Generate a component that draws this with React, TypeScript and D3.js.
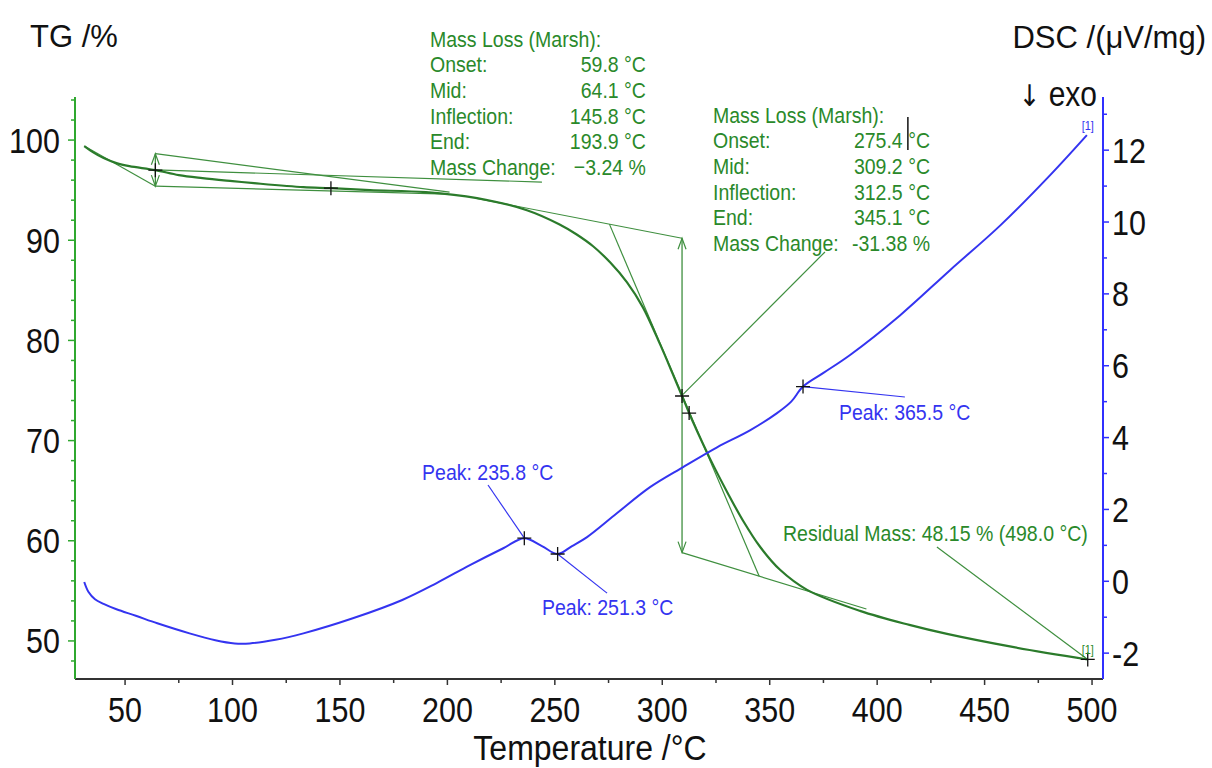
import React, { useEffect, useRef } from 'react';
import * as d3 from 'd3';

// TG curve (temperature °C, mass %)
const tgTemp = [31, 35, 40, 46, 52, 64.1, 75, 86, 100, 110, 133, 145.8, 164, 190, 213.8, 237, 252, 260, 267.8, 275.7, 283.6, 291, 299, 305, 309.2, 312.5, 314.3, 322.2, 330.6, 337.6, 345.5, 354.8, 367.4, 392, 415, 432.5, 463, 498];
const tgMass = [99.4, 98.8, 98.2, 97.7, 97.4, 97.0, 96.5, 96.2, 95.9, 95.7, 95.3, 95.2, 95.0, 94.8, 94.2, 93.0, 91.6, 90.6, 89.4, 87.8, 85.8, 83.3, 79.6, 76.6, 74.45, 72.75, 71.85, 68.2, 64.7, 62.0, 59.4, 57.1, 55.1, 53.0, 51.6, 50.7, 49.4, 48.15];

// DSC curve (temperature °C, µV/mg)
const dscTemp = [31, 33, 36, 40, 46, 55, 65, 80, 92, 101, 108, 120, 133, 156, 179, 195, 210.5, 226, 235.8, 244, 251.3, 258, 265, 279, 294.3, 309.7, 325.5, 340.8, 353.4, 360, 365.5, 375, 387.4, 410.6, 433.9, 457.2, 480.4, 497.6];
const dscValue = [-0.02, -0.3, -0.5, -0.63, -0.78, -0.96, -1.17, -1.45, -1.64, -1.73, -1.73, -1.63, -1.45, -1.03, -0.52, -0.05, 0.45, 0.92, 1.2, 0.98, 0.76, 0.98, 1.23, 1.9, 2.62, 3.18, 3.73, 4.2, 4.68, 5.0, 5.42, 5.8, 6.3, 7.4, 8.66, 9.9, 11.3, 12.42];

const tempTicks = [50, 100, 150, 200, 250, 300, 350, 400, 450, 500];
const tempMinorTicks = [75, 125, 175, 225, 275, 325, 375, 425, 475];
const tgTicks = [50, 60, 70, 80, 90, 100];
const tgMinorTicks = [48, 52, 54, 56, 58, 62, 64, 66, 68, 72, 74, 76, 78, 82, 84, 86, 88, 92, 94, 96, 98, 102, 104];
const dscTicks = [-2, 0, 2, 4, 6, 8, 10, 12];
const dscMinorTicks = [-1, 1, 3, 5, 7, 9, 11, 13];

// Mass loss evaluations
const evalLabels = ['Mass Loss (Marsh):', 'Onset:', 'Mid:', 'Inflection:', 'End:', 'Mass Change:'];
const step1Values = ['', '59.8 °C', '64.1 °C', '145.8 °C', '193.9 °C', '\u22123.24 %'];
const step2Values = ['', '275.4 °C', '309.2 °C', '312.5 °C', '345.1 °C', '-31.38 %'];
const tgMarks = [64.1, 145.8, 309.2, 312.5, 498];
const dscPeaks = [235.8, 251.3, 365.5];
const residualText = 'Residual Mass: 48.15 % (498.0 °C)';

// evaluation construction lines, in (°C, %)
const step1Tangents = [
  [[31, 99.4], [64.1, 95.4]],
  [[64.1, 98.64], [201, 94.8]],
  [[64.1, 95.4], [200, 94.6]],
];
const step1Arrow = [64.1, 98.64, 95.4];
const step2Tangents = [
  [[213, 94.2], [309.2, 90.2]],
  [[275.4, 91.61], [345.1, 56.46]],
  [[309.2, 58.82], [395, 53.19]],
];
const step2Arrow = [309.2, 90.2, 58.82];

// where the texts and leader lines sit, in data units
const layout = {
  block1: { x: 191.9, xVal: 292.4, tg: 109.34 },
  block2: { x: 323.6, xVal: 424.6, tg: 101.75 },
  leader1: [244.0, 95.81],
  leader2: [375.7, 88.83],
  residualLeader: [427.8, 59.38],
  residualText: [356.2, 59.98],
  cursor: [414.3, 102.3, 99.0],
  peakText: [[188.2, 2.82], [244.0, -0.94], [382.2, 4.49]],
  peakLeader: [[218.9, 2.68], [274.3, -0.33], [412.9, 5.13]],
};

const W = 1212;
const H = 768;
const FONT = '"Liberation Sans", Arial, sans-serif';
const GREEN_TXT = '#2a892a';
const GREEN_LINE = '#3f8f3f';
const BLUE = '#3434f0';

const interp = (xs, ys, t) => {
  const i = Math.max(1, Math.min(xs.length - 1, d3.bisectLeft(xs, t)));
  const f = (t - xs[i - 1]) / (xs[i] - xs[i - 1]);
  return ys[i - 1] + f * (ys[i] - ys[i - 1]);
};

const App = () => {
  const ref = useRef(null);

  useEffect(() => {
    const svg = d3.select(ref.current);
    svg.selectAll('*').remove();

    const x = d3.scaleLinear().domain([26.7, 505.1]).range([75, 1103]);
    const yTG = d3.scaleLinear().domain([46.2, 104.3]).range([679, 97]);
    const yDSC = d3.scaleLinear().domain([-2.72, 13.48]).range([679, 97]);

    const text = (px, py, str, size, fill, anchor = 'start', sy = 1.17) =>
      svg.append('text')
        .attr('transform', `translate(${px},${py}) scale(1,${sy})`)
        .attr('text-anchor', anchor)
        .style('font-family', FONT)
        .style('font-size', `${size}px`)
        .style('fill', fill)
        .text(str);

    const seg = (x1, y1, x2, y2, color, w = 1.2) =>
      svg.append('line')
        .attr('x1', x1).attr('y1', y1).attr('x2', x2).attr('y2', y2)
        .attr('stroke', color).attr('stroke-width', w);

    const cross = (px, py) =>
      svg.append('path')
        .attr('d', `M${px - 7},${py}H${px + 7}M${px},${py - 7}V${py + 7}`)
        .attr('stroke', '#111').attr('stroke-width', 1.3).attr('fill', 'none');

    const doubleArrow = ([t, top, bot]) => {
      const px = x(t), y1 = yTG(top), y2 = yTG(bot);
      seg(px, y1, px, y2, GREEN_LINE, 1.3);
      svg.append('path')
        .attr('d', `M${px - 4},${y1 + 11}L${px},${y1}L${px + 4},${y1 + 11}M${px - 4},${y2 - 11}L${px},${y2}L${px + 4},${y2 - 11}`)
        .attr('stroke', GREEN_LINE).attr('stroke-width', 1.2).attr('fill', 'none');
    };

    // construction lines
    [...step1Tangents, ...step2Tangents].forEach(([a, b]) =>
      seg(x(a[0]), yTG(a[1]), x(b[0]), yTG(b[1]), GREEN_LINE));
    doubleArrow(step1Arrow);
    doubleArrow(step2Arrow);

    // leader lines of the mass change labels
    const mid1 = (step1Arrow[1] + step1Arrow[2]) / 2;
    const mid2 = (step2Arrow[1] + step2Arrow[2]) / 2;
    seg(x(step1Arrow[0]), yTG(mid1), x(layout.leader1[0]), yTG(layout.leader1[1]), GREEN_LINE);
    seg(x(step2Arrow[0]), yTG(mid2), x(layout.leader2[0]), yTG(layout.leader2[1]), GREEN_LINE);
    seg(x(498), yTG(48.15), x(layout.residualLeader[0]), yTG(layout.residualLeader[1]), GREEN_LINE);

    // DSC peak leaders
    dscPeaks.forEach((t, i) => {
      const v = interp(dscTemp, dscValue, t);
      seg(x(t), yDSC(v), x(layout.peakLeader[i][0]), yDSC(layout.peakLeader[i][1]), BLUE, 1.2);
    });

    // curves
    const idxTG = d3.range(tgTemp.length);
    const idxDSC = d3.range(dscTemp.length);
    const smooth = d3.curveCatmullRom.alpha(0.5);
    svg.append('path')
      .attr('d', d3.line().x(i => x(tgTemp[i])).y(i => yTG(tgMass[i])).curve(smooth)(idxTG))
      .attr('fill', 'none').attr('stroke', '#2b7b2b').attr('stroke-width', 2.2);
    svg.append('path')
      .attr('d', d3.line().x(i => x(dscTemp[i])).y(i => yDSC(dscValue[i])).curve(smooth)(idxDSC))
      .attr('fill', 'none').attr('stroke', BLUE).attr('stroke-width', 2);

    // markers
    tgMarks.forEach(t => cross(x(t), yTG(interp(tgTemp, tgMass, t))));
    dscPeaks.forEach(t => cross(x(t), yDSC(interp(dscTemp, dscValue, t))));

    // axes
    const [x0, x1] = x.range();
    const [yb, yt] = yTG.range();
    seg(x0, yb, x1, yb, '#333', 2);
    seg(x0, yb, x0, yt, '#2fa82f', 2);
    seg(x1, yb, x1, yt, '#3030ff', 2);
    tempTicks.forEach(t => {
      seg(x(t), yb, x(t), yb + 6, '#333', 1.5);
      text(x(t), 722, String(t), 30.5, '#111', 'middle', 1.15);
    });
    tempMinorTicks.forEach(t => seg(x(t), yb, x(t), yb + 4, '#333', 1.5));
    tgTicks.forEach(v => {
      seg(x0 - 7, yTG(v), x0, yTG(v), '#2fa82f', 1.5);
      text(60, yTG(v) + 12.5, String(v), 30.5, '#111', 'end', 1.15);
    });
    tgMinorTicks.forEach(v => seg(x0 - 4, yTG(v), x0, yTG(v), '#2fa82f', 1.5));
    dscTicks.forEach(v => {
      seg(x1, yDSC(v), x1 + 6, yDSC(v), '#3030ff', 1.5);
      text(1112, yDSC(v) + 12.5, String(v), 30.5, '#111', 'start', 1.15);
    });
    dscMinorTicks.forEach(v => seg(x1, yDSC(v), x1 + 4, yDSC(v), '#3030ff', 1.5));

    // titles
    text(30, 47, 'TG /%', 31, '#111', 'start', 1);
    text(1206, 48, 'DSC /(\u03bcV/mg)', 31, '#111', 'end', 1);
    const exo = text(1097, 106, '', 30, '#111', 'end', 1.15);
    exo.append('tspan').style('font-family', '"DejaVu Sans", sans-serif').style('font-size', '26px').text('\u2193');
    exo.append('tspan').text(' exo');
    text(590, 760, 'Temperature /°C', 32, '#111', 'middle', 1.08);

    // evaluation blocks
    const block = (b, values) => {
      evalLabels.forEach((lab, i) => {
        const by = yTG(b.tg) + i * 25.7;
        text(x(b.x), by, lab, 19.5, GREEN_TXT);
        if (values[i]) text(x(b.xVal), by, values[i], 19.5, GREEN_TXT, 'end');
      });
    };
    block(layout.block1, step1Values);
    block(layout.block2, step2Values);
    seg(x(layout.cursor[0]), yTG(layout.cursor[1]), x(layout.cursor[0]), yTG(layout.cursor[2]), '#111', 1.5);

    dscPeaks.forEach((t, i) => {
      text(x(layout.peakText[i][0]), yDSC(layout.peakText[i][1]), `Peak: ${t.toFixed(1)} °C`, 19.5, BLUE);
    });
    text(x(layout.residualText[0]), yTG(layout.residualText[1]), residualText, 19.5, GREEN_TXT);

    // curve end labels
    text(x(498), yDSC(dscValue[dscValue.length - 1]) - 5, '[1]', 11, BLUE, 'middle', 1.2);
    text(x(498), yTG(48.15) - 5, '[1]', 11, GREEN_TXT, 'middle', 1.2);
  }, []);

  return (
    <svg
      ref={ref}
      width={W}
      height={H}
      style={{ position: 'absolute', left: 0, top: 0, background: '#fff' }}
    />
  );
};

export default App;
